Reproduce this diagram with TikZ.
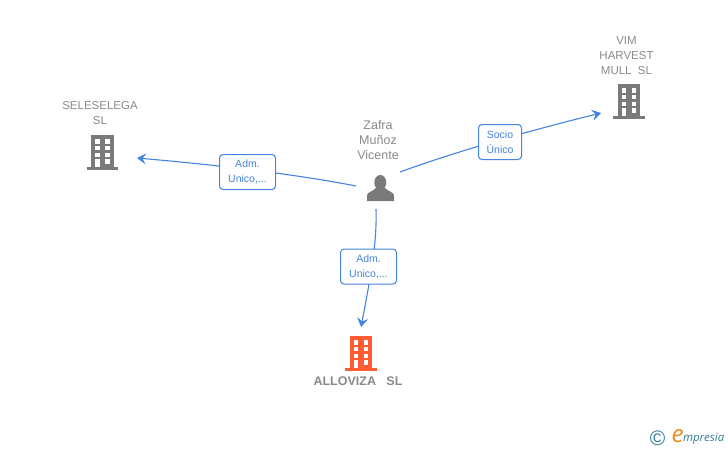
\documentclass[tikz,border=0pt]{standalone}
\usepackage{fontspec}
\setmainfont{Liberation Sans}
\newfontfamily\logofont{Open Sans}
\usetikzlibrary{arrows.meta}
\definecolor{grayicon}{HTML}{7A7A7A}
\definecolor{graytext}{HTML}{8A8A8A}
\definecolor{linkblue}{HTML}{4583E0}
\definecolor{orangeicon}{HTML}{FF5C33}
\definecolor{logoteal}{HTML}{2F7F93}
\definecolor{logoorange}{HTML}{F08A1D}
\tikzset{
  x=1pt,y=-1pt,
  every node/.style={inner sep=0pt,outer sep=0pt},
  namelabel/.style={text=graytext,font=\fontsize{11.5}{15}\selectfont,align=center},
  personlabel/.style={text=graytext,font=\fontsize{12.5}{15}\selectfont,align=center},
  rolebox/.style={draw=linkblue,line width=1pt,rounded corners=3.5pt,fill=white,text=linkblue,
    font=\fontsize{10.5}{15}\selectfont,align=center,minimum height=35pt},
  connector/.style={draw=linkblue,line width=1.1pt},
  arrowed/.style={connector,-{Stealth[length=9pt,width=11pt,inset=3.5pt]}},
  pics/building/.style={code={
    \fill[#1] (4.5,0) rectangle (27,32);
    \fill[#1] (0,32) rectangle (31.5,34.5);
    \foreach \cx in {8.5,18.5}{\foreach \cy in {4.3,11,17.7}{
      \fill[white] (\cx,\cy) rectangle +(4.6,4.3);}}
    \fill[white] (8.5,24.3) rectangle (13.1,32);
    \fill[white] (18.5,24.3) rectangle (23.1,28.6);
  }}
}
\begin{document}
\begin{tikzpicture}
\useasboundingbox (0,0) rectangle (728,450);
\fill[white] (0,0) rectangle (728,450);

% icons
\pic at (86.5,135) {building=grayicon};
\pic at (613,84) {building=grayicon};
\pic at (345,336) {building=orangeicon};
\fill[grayicon] (380.3,182.5) ellipse (6 and 7.5);
\fill[grayicon] (367,201) -- (367,195.5) .. controls (367,192) and (373,191.5) .. (376,188)
  -- (385,188) .. controls (388,191.5) and (394,192) .. (394,195.5) -- (394,201) -- cycle;

% anchors
\coordinate (pAl) at (356,186);
\coordinate (pAr) at (400,172);
\coordinate (pAb) at (376,209);
\coordinate (sele) at (137,158);
\coordinate (vim) at (601,113);
\coordinate (allo) at (361,327);

% labels
\node[namelabel] (nsele) at (100,113.5) {SELESELEGA\\SL};
\node[namelabel] (nvim) at (626.5,56) {VIM\\HARVEST\\MULL\ \ SL};
\node[personlabel] (nperson) at (378,140.5) {Zafra\\Muñoz\\Vicente};
\node[text=graytext,font=\bfseries\fontsize{12.5}{14}\selectfont] (nallo) at (358,381.5) {ALLOVIZA\ \ \ SL};

% connectors
\path[arrowed] (pAl) .. controls (310,177) and (240,167) .. (sele);
\path[arrowed] (pAr) .. controls (460,150) and (540,128) .. (vim);
\path[arrowed] (pAb) .. controls (377,240) and (372,270) .. (allo);

% role boxes
\node[rolebox,minimum width=56pt] (r1) at (247.5,172) {Adm.\\Unico,...};
\node[rolebox,minimum width=43pt] (r2) at (500,142) {Socio\\Único};
\node[rolebox,minimum width=56pt] (r3) at (368.5,266.5) {Adm.\\Unico,...};

% logo
\node[text=logoteal,font=\fontsize{21}{21}\selectfont] (copy) at (657.5,438.5) {\char"00A9};
\node[text=logoorange,font=\logofont\itshape\fontsize{24}{24}\selectfont] (loge) at (677.5,436.5) {e};
\node[text=logoteal,font=\logofont\itshape\fontsize{11.5}{12}\selectfont,anchor=west] (logt) at (683,438.5) {mpresia};
\end{tikzpicture}
\end{document}
